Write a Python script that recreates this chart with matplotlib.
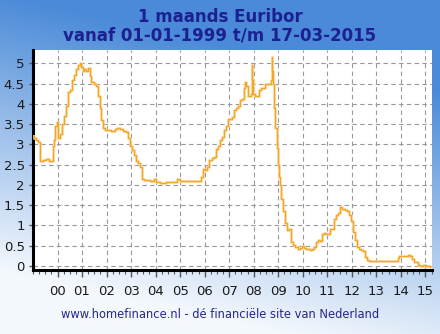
import numpy as np
import pandas as pd
import matplotlib
matplotlib.use("Agg")
import matplotlib.pyplot as plt
from matplotlib.ticker import MultipleLocator, FixedLocator, FuncFormatter

# ---- data ----
dates = [
    "1999-01-01", "1999-01-20", "1999-02-15", "1999-03-10", "1999-04-09", "1999-04-20",
    "1999-06-01", "1999-07-15", "1999-08-20", "1999-09-20", "1999-10-20", "1999-11-10",
    "1999-11-25", "1999-12-20", "2000-01-05", "2000-02-01", "2000-03-01", "2000-04-01",
    "2000-05-01", "2000-06-01", "2000-07-01", "2000-08-01", "2000-09-01", "2000-10-01",
    "2000-11-01", "2000-12-01", "2000-12-20", "2001-01-10", "2001-02-01", "2001-03-01",
    "2001-04-01", "2001-05-01", "2001-05-20", "2001-07-01", "2001-08-01", "2001-09-01",
    "2001-09-20", "2001-10-15", "2001-11-10", "2001-12-15", "2002-01-15", "2002-03-01",
    "2002-05-01", "2002-06-01", "2002-07-15", "2002-09-01", "2002-10-15", "2002-11-15",
    "2002-12-10", "2003-01-15", "2003-02-15", "2003-03-10", "2003-04-15", "2003-05-20",
    "2003-06-10", "2003-07-15", "2003-09-01", "2003-10-15", "2003-12-01", "2004-01-10",
    "2004-03-01", "2004-06-01", "2004-09-01", "2004-11-20", "2005-01-05", "2005-03-01",
    "2005-06-01", "2005-09-01", "2005-11-10", "2005-12-05", "2006-01-10", "2006-02-01",
    "2006-03-10", "2006-04-15", "2006-05-15", "2006-06-15", "2006-07-15", "2006-08-10",
    "2006-09-15", "2006-10-10", "2006-11-15", "2006-12-10", "2007-01-10", "2007-02-15",
    "2007-03-10", "2007-04-15", "2007-05-15", "2007-06-10", "2007-07-15", "2007-08-10",
    "2007-08-25", "2007-09-10", "2007-10-15", "2007-11-15", "2007-12-05", "2007-12-10",
    "2007-12-24", "2008-01-15", "2008-02-15", "2008-03-15", "2008-04-15", "2008-05-15",
    "2008-06-15", "2008-07-15", "2008-08-15", "2008-09-15", "2008-09-26", "2008-10-02",
    "2008-10-15", "2008-11-01", "2008-11-20", "2008-12-10", "2008-12-25", "2009-01-10",
    "2009-01-25", "2009-02-15", "2009-03-15", "2009-04-15", "2009-05-15", "2009-06-15",
    "2009-07-15", "2009-08-15", "2009-09-15", "2009-10-15", "2009-11-15", "2009-12-15",
    "2010-01-15", "2010-02-15", "2010-03-15", "2010-04-15", "2010-05-15", "2010-06-15",
    "2010-07-15", "2010-08-15", "2010-09-15", "2010-10-15", "2010-11-15", "2010-12-15",
    "2011-01-15", "2011-02-15", "2011-03-15", "2011-04-15", "2011-05-15", "2011-06-15",
    "2011-07-15", "2011-08-15", "2011-09-15", "2011-10-15", "2011-11-15", "2011-12-15",
    "2012-01-15", "2012-02-15", "2012-03-15", "2012-04-15", "2012-05-15", "2012-06-15",
    "2012-07-15", "2012-08-15", "2012-09-15", "2012-11-01", "2013-03-01", "2013-06-01",
    "2013-09-01", "2013-11-20", "2013-12-10", "2014-01-10", "2014-03-01", "2014-04-15",
    "2014-05-15", "2014-06-15", "2014-07-10", "2014-08-15", "2014-09-15", "2014-10-15",
    "2014-12-01", "2015-01-15", "2015-02-15", "2015-03-17",
]
rates = [
    3.20, 3.15, 3.12, 3.05, 2.70, 2.58,
    2.62, 2.64, 2.60, 2.58, 2.95, 3.10,
    3.45, 3.55, 3.15, 3.25, 3.50, 3.70,
    3.95, 4.30, 4.35, 4.60, 4.72, 4.85,
    4.95, 5.02, 4.90, 4.80, 4.85, 4.80,
    4.88, 4.70, 4.55, 4.50, 4.45, 4.20,
    3.90, 3.60, 3.40, 3.35, 3.35, 3.33,
    3.37, 3.40, 3.37, 3.33, 3.30, 3.15,
    2.95, 2.85, 2.75, 2.60, 2.55, 2.45,
    2.15, 2.12, 2.12, 2.10, 2.15, 2.07,
    2.05, 2.07, 2.08, 2.15, 2.10, 2.10,
    2.10, 2.10, 2.20, 2.40, 2.38, 2.45,
    2.62, 2.66, 2.70, 2.88, 2.95, 3.10,
    3.18, 3.35, 3.45, 3.62, 3.62, 3.68,
    3.85, 3.90, 3.95, 4.10, 4.12, 4.40,
    4.55, 4.45, 4.20, 4.25, 4.95, 4.60,
    4.25, 4.20, 4.20, 4.35, 4.40, 4.40,
    4.48, 4.48, 4.50, 4.60, 5.15, 4.80,
    4.50, 3.90, 3.40, 2.90, 2.50, 2.20,
    2.00, 1.65, 1.35, 1.05, 0.88, 0.90,
    0.60, 0.52, 0.46, 0.43, 0.45, 0.50,
    0.44, 0.42, 0.41, 0.40, 0.43, 0.48,
    0.60, 0.64, 0.62, 0.78, 0.82, 0.80,
    0.80, 0.90, 0.92, 1.15, 1.25, 1.30,
    1.45, 1.40, 1.38, 1.36, 1.25, 1.10,
    0.85, 0.63, 0.47, 0.41, 0.39, 0.38,
    0.22, 0.14, 0.12, 0.11, 0.12, 0.12,
    0.13, 0.20, 0.25, 0.24, 0.24, 0.27,
    0.25, 0.18, 0.10, 0.09, 0.03, 0.01,
    0.02, 0.01, -0.01, -0.02,
]
year_ticks = list(range(2000, 2016))
year_labels = ["00", "01", "02", "03", "04", "05", "06", "07",
               "08", "09", "10", "11", "12", "13", "14", "15"]
title_lines = ["1 maands Euribor", "vanaf 01-01-1999 t/m 17-03-2015"]
footer = "www.homefinance.nl - dé financiële site van Nederland"

# ---- figure ----
W, H, DPI = 440, 334, 100
fig = plt.figure(figsize=(W / DPI, H / DPI), dpi=DPI)

# background gradient
bg = fig.add_axes([0, 0, 1, 1], zorder=-10)
yy, xx = np.mgrid[0:1:200j, 0:1:200j]
f = np.clip(yy * 1.2 - 0.15 + (0.5 - xx) * 0.35, 0, 1)[..., None]
top = np.array([0x4a, 0x8a, 0xd8]) / 255
bot = np.array([0xf4, 0xf8, 0xfd]) / 255
img = top * (1 - f) + bot * f
bg.imshow(img, aspect="auto", extent=[0, 1, 0, 1], origin="upper")
bg.axis("off")

ax = fig.add_axes([33 / W, (H - 270) / H, (432 - 33) / W, (270 - 50) / H])
ax.set_facecolor("white")

d = pd.to_datetime(pd.Series(dates))
x = d.dt.year + (d.dt.dayofyear - 1) / 365.25

ax.step(x, rates, where="post", color="#fbe0b0", lw=2.2, alpha=0.8, zorder=3)
ax.step(x, rates, where="post", color="#f3a628", lw=1.0, zorder=4)

ax.set_xlim(1999.0, 2015.27)
ax.set_ylim(-0.1, 5.33)

ax.xaxis.set_major_locator(FixedLocator(year_ticks))
ax.set_xticklabels(year_labels)
ax.xaxis.set_minor_locator(MultipleLocator(0.25))
ax.yaxis.set_major_locator(MultipleLocator(0.5))
ax.yaxis.set_major_formatter(FuncFormatter(lambda v, p: f"{v:g}"))

ax.grid(True, which="major", color="#999999", linestyle=(0, (4, 3)), linewidth=0.8)
ax.set_axisbelow(True)

for s in ["top", "right"]:
    ax.spines[s].set_visible(False)
ax.spines["left"].set_linewidth(2.2)
ax.spines["bottom"].set_linewidth(2.2)
ax.spines["left"].set_color("black")
ax.spines["bottom"].set_color("black")

ax.tick_params(axis="x", which="major", length=5, width=1, color="#555555",
               labelsize=9.5, labelcolor="#1a1a1a", pad=6)
ax.tick_params(axis="x", which="minor", length=3, width=0.8, color="#555555")
ax.tick_params(axis="y", which="major", length=3, width=1, color="#555555",
               labelsize=9.5, labelcolor="#1a1a1a", pad=3)

fig.text(220 / W, 1 - 17 / H, title_lines[0], ha="center", va="center",
         fontsize=12, fontweight="bold", color="#1c2090")
fig.text(220 / W, 1 - 35 / H, title_lines[1], ha="center", va="center",
         fontsize=12, fontweight="bold", color="#1c2090")
fig.text(220 / W, 1 - 314 / H, footer, ha="center", va="center",
         fontsize=8.3, color="#26288a")

fig.savefig("out.png", dpi=DPI)
